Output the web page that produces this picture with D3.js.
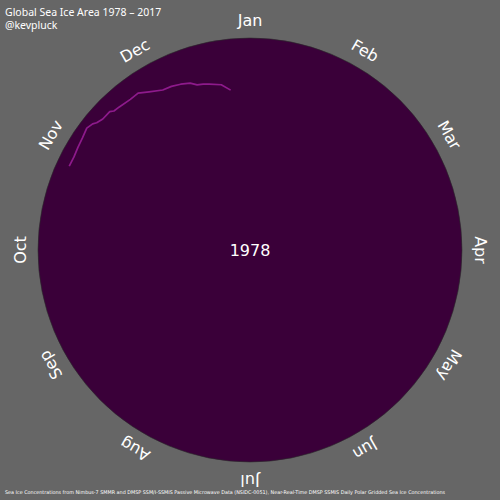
<!DOCTYPE html>
<html>
<head>
<meta charset="utf-8">
<script src="https://cdn.jsdelivr.net/npm/d3@7"></script>
<style>
  html, body { margin: 0; padding: 0; background: #666666; }
  svg { display: block; }
</style>
</head>
<body>
<svg id="chart" width="500" height="500"></svg>
<script>
// ---- Data ----
const months = ["Jan","Feb","Mar","Apr","May","Jun","Jul","Aug","Sep","Oct","Nov","Dec"];
const year = "1978";
// day of year for each reading (1978, Nimbus-7 every-other-day record)
const days = [299, 302, 305, 308, 311, 313, 314, 316, 319, 320, 322, 326, 329, 332, 336, 339, 342, 345, 347, 349, 351, 355, 358];
// global sea ice area, million km²
const areas = [23.50, 23.48, 23.63, 23.77, 24.02, 23.78, 23.50, 23.24, 23.24, 22.94, 22.85, 22.68, 22.72, 22.12, 21.49, 21.40, 21.19, 20.90, 20.45, 20.33, 20.14, 19.78, 18.99];
const titleLines = ["Global Sea Ice Area 1978 – 2017", "@kevpluck"];
const footer = "Sea Ice Concentrations from Nimbus-7 SMMR and DMSP SSM/I-SSMIS Passive Microwave Data (NSIDC-0051), Near-Real-Time DMSP SSMIS Daily Polar Gridded Sea Ice Concentrations";

// ---- Layout ----
const W = 500, H = 500, cx = 250, cy = 250, R = 212, labelR = 230;
const font = "'DejaVu Sans', Verdana, sans-serif";

const svg = d3.select("#chart");
svg.append("rect").attr("width", W).attr("height", H).attr("fill", "#666666");

const angle = d3.scaleLinear().domain([0, 365]).range([0, 2 * Math.PI]);
const radius = d3.scaleLinear().domain([0, 25]).range([0, R]);

const g = svg.append("g").attr("transform", `translate(${cx},${cy})`);

g.append("circle").attr("r", R).attr("fill", "#3a0039").attr("stroke", "#2a2a2a").attr("stroke-width", 0.6);

// month labels
const monthAngle = d3.scaleBand().domain(months).range([0, 360]);
g.selectAll("text.month").data(months).join("text")
  .attr("class", "month")
  .attr("transform", d => `rotate(${monthAngle(d)}) translate(0,${-labelR})`)
  .attr("text-anchor", "middle")
  .attr("dominant-baseline", "central")
  .attr("fill", "#ffffff")
  .attr("font-family", font)
  .attr("font-size", 16)
  .text(d => d);

// year
g.append("text")
  .attr("text-anchor", "middle")
  .attr("dominant-baseline", "central")
  .attr("fill", "#ffffff")
  .attr("font-family", font)
  .attr("font-size", 16)
  .text(year);

// line
const pts = days.map((d, i) => [d, areas[i]]);
const line = d3.lineRadial()
  .angle(d => angle(d[0]))
  .radius(d => radius(d[1]));
g.append("path")
  .attr("d", line(pts))
  .attr("fill", "none")
  .attr("stroke", "#8e1a8c")
  .attr("stroke-width", 1.7)
  .attr("stroke-linejoin", "round");

// title
svg.selectAll("text.title").data(titleLines).join("text")
  .attr("class", "title")
  .attr("x", 5)
  .attr("y", (d, i) => 16 + i * 13)
  .attr("fill", "#ffffff")
  .attr("font-family", "'Noto Sans', 'Open Sans', sans-serif")
  .attr("font-size", 10.5)
  .text(d => d);

// footer
svg.append("text")
  .attr("x", 5)
  .attr("y", 494)
  .attr("fill", "#ffffff")
  .attr("font-family", font)
  .attr("font-size", 5)
  .attr("textLength", 440)
  .attr("lengthAdjust", "spacingAndGlyphs")
  .text(footer);
</script>
</body>
</html>
